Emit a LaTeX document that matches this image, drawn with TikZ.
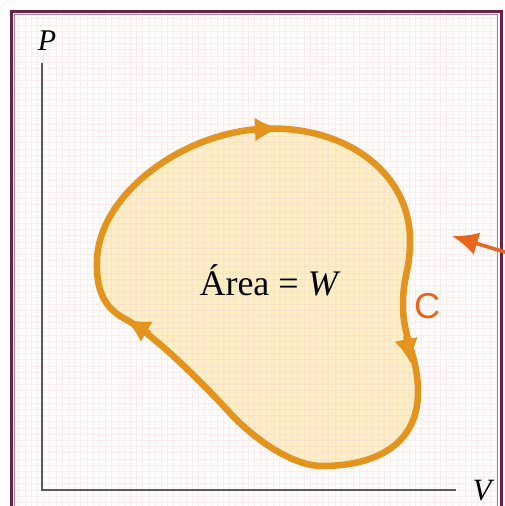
\documentclass[tikz,border=0pt]{standalone}
\usepackage{fontspec}
\setmainfont{Liberation Serif}
\setsansfont{Liberation Sans}
\usetikzlibrary{arrows.meta}
\definecolor{framec}{HTML}{6E1F45}
\definecolor{gridbg}{HTML}{FEFBFB}
\definecolor{gridln}{HTML}{EDC9D1}
\definecolor{curvec}{HTML}{E3941F}
\definecolor{fillc}{HTML}{FDEEC6}
\definecolor{labc}{HTML}{E8661C}
\definecolor{axisc}{HTML}{5A5A5A}
\tikzset{
  axisline/.style={axisc, line width=1.8pt},
  cyclestroke/.style={curvec, line width=6.5pt, line join=round},
  axlabel/.style={font=\fontsize{30}{30}\selectfont\itshape, inner sep=0pt, anchor=base},
  cyclearrow/.style={curvec, line width=5pt, -{Latex[length=25pt,width=24pt]}},
  flowtip/.style={-{Latex[length=26pt,width=23pt]}},
}
\def\cyclepath{(97,262) .. controls (97,195) and (185,128.5) .. (272,128.5)
 .. controls (350,128.5) and (410,175) .. (410,240)
 .. controls (410,272) and (403,275) .. (403,305)
 .. controls (403,340) and (418,355) .. (418,392)
 .. controls (418,445) and (375,466) .. (322,466)
 .. controls (290,466) and (250,435) .. (230,413)
 .. controls (210,391) and (157,336.5) .. (127,320)
 .. controls (107,310) and (96,294) .. cycle}
\begin{document}
\begin{tikzpicture}[x=1pt,y=-1pt]
\useasboundingbox (0,0) rectangle (504,506);
\begin{scope}
\clip (0,0) rectangle (504,506);
\fill[gridbg] (11,11) rectangle (501,530);
\fill[fillc] \cyclepath;
\draw[gridln, opacity=0.28, line width=0.6pt, step=6.2pt] (11,11) grid (501,530);
\draw[framec, line width=3pt] (11,11) rectangle (501,540);
\draw[framec!55, line width=0.8pt] (14.8,14.8) rectangle (497.2,540);
\end{scope}
% axes
\coordinate (top) at (42,63);
\coordinate (orig) at (42,490);
\coordinate (right) at (456,490);
\draw[axisline] (top) -- (orig) -- (right);
\node[axlabel] (P) at (47,50) {P};
\node[axlabel, font=\fontsize{31}{31}\selectfont\itshape] (V) at (482,500) {V};
% cycle
\draw[cyclestroke] \cyclepath;
\coordinate (a1s) at (252,129.6);
\coordinate (a1t) at (280,128.4);
\coordinate (a2s) at (405.5,336);
\coordinate (a2t) at (411,364);
\coordinate (a3s) at (150,333.5);
\coordinate (a3t) at (125,319);
\draw[cyclearrow] (a1s) -- (a1t);
\draw[cyclearrow] (a2s) -- (a2t);
\draw[cyclearrow] (a3s) -- (a3t);
\node[font=\fontsize{36}{36}\selectfont, anchor=base, inner sep=0pt] (area) at (270,295) {\'Area = \textit{W}};
\node[font=\fontsize{36}{36}\selectfont\sffamily, text=labc, inner sep=0pt] (C) at (427,306) {C};
\coordinate (arrS) at (508,253);
\coordinate (arrT) at (452,236);
\draw[labc, line width=3.5pt, flowtip] (arrS) -- (arrT);
\end{tikzpicture}
\end{document}
